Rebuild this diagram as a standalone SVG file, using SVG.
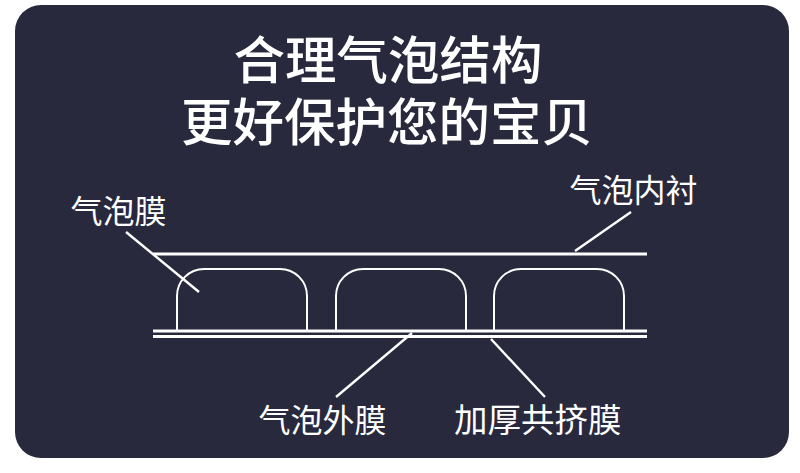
<svg xmlns="http://www.w3.org/2000/svg" width="800" height="473" viewBox="0 0 800 473">
<style>
text{font-family:"Noto Sans CJK SC","Noto Sans",sans-serif;fill:#fff}
.t{font-size:51.500px;font-weight:500;text-anchor:middle}
.l{font-size:32px;font-weight:400}
.s{fill:none;stroke:#fff;stroke-width:2}
.b{stroke:#fff;stroke-width:3;fill:none}
.d{stroke:#fff;stroke-width:2.4;fill:none}
</style>
<rect width="800" height="473" fill="#fff"/>
<rect id="card" x="15" y="5" width="774" height="453" rx="26" fill="#28293d"/>
<g id="title"><text class="t" x="388" y="79">合理气泡结构</text><text class="t" x="387" y="141">更好保护您的宝贝</text></g>
<g id="film">
<line class="b" x1="153" y1="254" x2="647" y2="254"/>
<line class="b" x1="153" y1="331" x2="647" y2="331"/>
<line class="b" x1="153" y1="336.500" x2="647" y2="336.500"/>
</g>
<g id="bubble1"><path class="s" d="M177 331V296a27 27 0 0 1 27-27h76a27 27 0 0 1 27 27V331"/></g>
<g id="bubble2"><path class="s" d="M336 331V296a27 27 0 0 1 27-27h76a27 27 0 0 1 27 27V331"/></g>
<g id="bubble3"><path class="s" d="M494 331V296a27 27 0 0 1 27-27h76a27 27 0 0 1 27 27V331"/></g>
<g id="connectors">
<line class="d" x1="126" y1="232" x2="199" y2="292"/>
<line class="d" x1="575" y1="251" x2="631" y2="212"/>
<line class="d" x1="336" y1="397" x2="412" y2="333"/>
<line class="d" x1="491" y1="339" x2="545" y2="397"/>
</g>
<g id="labels">
<text class="l" x="70.500" y="223">气泡膜</text>
<text class="l" x="569.500" y="202">气泡内衬</text>
<text class="l" x="258.500" y="432">气泡外膜</text>
<text class="l" x="454" y="432" style="font-size:33.500px">加厚共挤膜</text>
</g>
</svg>
